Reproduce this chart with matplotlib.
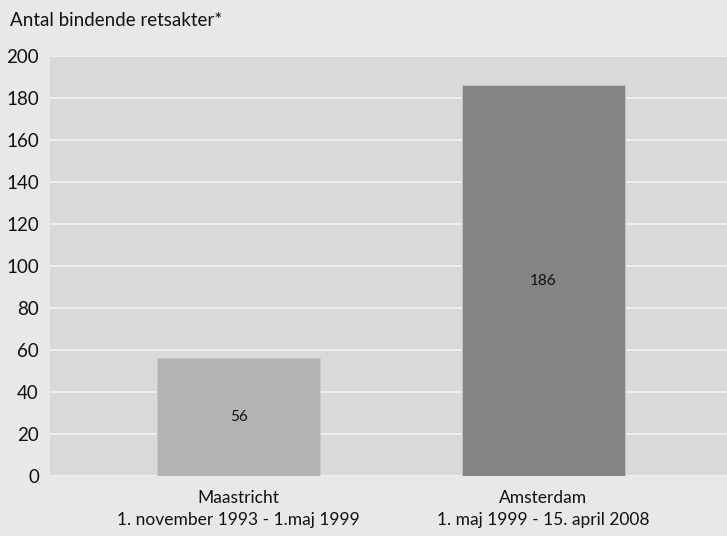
import matplotlib
matplotlib.use("Agg")
import matplotlib.pyplot as plt

plt.rcParams['font.family'] = ['Lato', 'DejaVu Sans']

categories = ["Maastricht\n1. november 1993 - 1.maj 1999",
              "Amsterdam\n1. maj 1999 - 15. april 2008"]
values = [56, 186]
bar_colors = ["#b3b3b3", "#848484"]
yticks = [0, 20, 40, 60, 80, 100, 120, 140, 160, 180, 200]
ylabel = "Antal bindende retsakter*"

fig = plt.figure(figsize=(7.27, 5.36), dpi=100, facecolor="#e8e8e8")
ax = fig.add_axes([50 / 727, 60 / 536, 677 / 727, 420 / 536])
ax.set_facecolor("#d9d9d9")

x = list(range(len(values)))
ax.bar(x, values, width=0.535, color=bar_colors, edgecolor="#c8c8c8",
       linewidth=0.6, zorder=3)
for xi, v in zip(x, values):
    ax.text(xi, v / 2, str(v), ha="center", va="center", fontsize=11,
            color="#111111", zorder=4)

ax.set_ylim(0, 200)
ax.set_xlim(-0.619, 1.604)
ax.set_yticks(yticks)
ax.set_yticklabels([str(t) for t in yticks], fontsize=13.5, color="#111111")
ax.set_xticks(x)
ax.set_xticklabels(categories, fontsize=12.5, color="#111111", linespacing=1.45)
ax.tick_params(axis="both", length=0, pad=8)
ax.tick_params(axis="x", pad=10)
ax.yaxis.grid(True, color="#eeeeee", linewidth=1.5, zorder=1)
ax.set_axisbelow(True)
for s in ax.spines.values():
    s.set_visible(False)

fig.text(10 / 727, 1 - 21 / 536, ylabel, fontsize=13.5, color="#111111",
         ha="left", va="center")

fig.savefig("out.png", dpi=100, facecolor=fig.get_facecolor())
